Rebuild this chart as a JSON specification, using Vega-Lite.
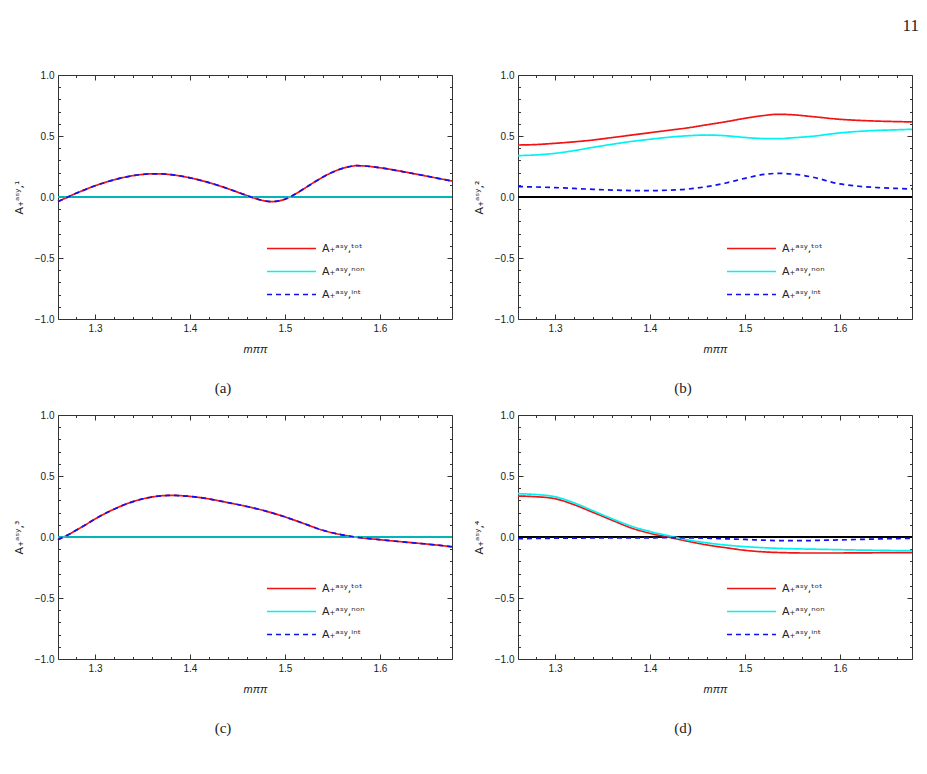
{
  "$schema": "https://vega.github.io/schema/vega-lite/v6.json",
  "padding": {"left": 12, "top": 16, "right": 5, "bottom": 5},
  "title": {"text": "11", "anchor": "end", "font": "Liberation Serif", "fontSize": 17, "fontWeight": "normal", "color": "#222", "offset": 35, "dx": 3},
  "datasets": {
    "curves": [
      {"p":"a","s":"tot","m":1.261,"v":-0.038},{"p":"a","s":"tot","m":1.27,"v":-0.005},{"p":"a","s":"tot","m":1.28,"v":0.03},{"p":"a","s":"tot","m":1.29,"v":0.062},{"p":"a","s":"tot","m":1.30,"v":0.092},{"p":"a","s":"tot","m":1.31,"v":0.118},{"p":"a","s":"tot","m":1.32,"v":0.141},{"p":"a","s":"tot","m":1.33,"v":0.160},{"p":"a","s":"tot","m":1.34,"v":0.175},{"p":"a","s":"tot","m":1.35,"v":0.185},{"p":"a","s":"tot","m":1.36,"v":0.190},{"p":"a","s":"tot","m":1.37,"v":0.189},{"p":"a","s":"tot","m":1.38,"v":0.183},{"p":"a","s":"tot","m":1.39,"v":0.172},{"p":"a","s":"tot","m":1.40,"v":0.157},{"p":"a","s":"tot","m":1.41,"v":0.139},{"p":"a","s":"tot","m":1.42,"v":0.118},{"p":"a","s":"tot","m":1.43,"v":0.094},{"p":"a","s":"tot","m":1.44,"v":0.068},{"p":"a","s":"tot","m":1.45,"v":0.040},{"p":"a","s":"tot","m":1.46,"v":0.012},{"p":"a","s":"tot","m":1.47,"v":-0.015},{"p":"a","s":"tot","m":1.48,"v":-0.034},{"p":"a","s":"tot","m":1.485,"v":-0.038},{"p":"a","s":"tot","m":1.49,"v":-0.036},{"p":"a","s":"tot","m":1.50,"v":-0.018},{"p":"a","s":"tot","m":1.51,"v":0.020},{"p":"a","s":"tot","m":1.52,"v":0.068},{"p":"a","s":"tot","m":1.53,"v":0.117},{"p":"a","s":"tot","m":1.54,"v":0.163},{"p":"a","s":"tot","m":1.55,"v":0.203},{"p":"a","s":"tot","m":1.56,"v":0.233},{"p":"a","s":"tot","m":1.57,"v":0.252},{"p":"a","s":"tot","m":1.575,"v":0.257},{"p":"a","s":"tot","m":1.58,"v":0.256},{"p":"a","s":"tot","m":1.59,"v":0.250},{"p":"a","s":"tot","m":1.60,"v":0.240},{"p":"a","s":"tot","m":1.61,"v":0.228},{"p":"a","s":"tot","m":1.62,"v":0.214},{"p":"a","s":"tot","m":1.63,"v":0.200},{"p":"a","s":"tot","m":1.64,"v":0.185},{"p":"a","s":"tot","m":1.65,"v":0.170},{"p":"a","s":"tot","m":1.66,"v":0.155},{"p":"a","s":"tot","m":1.676,"v":0.131},
      {"p":"a","s":"non","m":1.261,"v":0},{"p":"a","s":"non","m":1.676,"v":0},
      {"p":"a","s":"int","m":1.261,"v":-0.038},{"p":"a","s":"int","m":1.27,"v":-0.005},{"p":"a","s":"int","m":1.28,"v":0.03},{"p":"a","s":"int","m":1.29,"v":0.062},{"p":"a","s":"int","m":1.30,"v":0.092},{"p":"a","s":"int","m":1.31,"v":0.118},{"p":"a","s":"int","m":1.32,"v":0.141},{"p":"a","s":"int","m":1.33,"v":0.160},{"p":"a","s":"int","m":1.34,"v":0.175},{"p":"a","s":"int","m":1.35,"v":0.185},{"p":"a","s":"int","m":1.36,"v":0.190},{"p":"a","s":"int","m":1.37,"v":0.189},{"p":"a","s":"int","m":1.38,"v":0.183},{"p":"a","s":"int","m":1.39,"v":0.172},{"p":"a","s":"int","m":1.40,"v":0.157},{"p":"a","s":"int","m":1.41,"v":0.139},{"p":"a","s":"int","m":1.42,"v":0.118},{"p":"a","s":"int","m":1.43,"v":0.094},{"p":"a","s":"int","m":1.44,"v":0.068},{"p":"a","s":"int","m":1.45,"v":0.040},{"p":"a","s":"int","m":1.46,"v":0.012},{"p":"a","s":"int","m":1.47,"v":-0.015},{"p":"a","s":"int","m":1.48,"v":-0.034},{"p":"a","s":"int","m":1.485,"v":-0.038},{"p":"a","s":"int","m":1.49,"v":-0.036},{"p":"a","s":"int","m":1.50,"v":-0.018},{"p":"a","s":"int","m":1.51,"v":0.020},{"p":"a","s":"int","m":1.52,"v":0.068},{"p":"a","s":"int","m":1.53,"v":0.117},{"p":"a","s":"int","m":1.54,"v":0.163},{"p":"a","s":"int","m":1.55,"v":0.203},{"p":"a","s":"int","m":1.56,"v":0.233},{"p":"a","s":"int","m":1.57,"v":0.252},{"p":"a","s":"int","m":1.575,"v":0.257},{"p":"a","s":"int","m":1.58,"v":0.256},{"p":"a","s":"int","m":1.59,"v":0.250},{"p":"a","s":"int","m":1.60,"v":0.240},{"p":"a","s":"int","m":1.61,"v":0.228},{"p":"a","s":"int","m":1.62,"v":0.214},{"p":"a","s":"int","m":1.63,"v":0.200},{"p":"a","s":"int","m":1.64,"v":0.185},{"p":"a","s":"int","m":1.65,"v":0.170},{"p":"a","s":"int","m":1.66,"v":0.155},{"p":"a","s":"int","m":1.676,"v":0.131},

      {"p":"b","s":"tot","m":1.261,"v":0.426},{"p":"b","s":"tot","m":1.28,"v":0.43},{"p":"b","s":"tot","m":1.30,"v":0.44},{"p":"b","s":"tot","m":1.32,"v":0.452},{"p":"b","s":"tot","m":1.34,"v":0.467},{"p":"b","s":"tot","m":1.36,"v":0.487},{"p":"b","s":"tot","m":1.38,"v":0.507},{"p":"b","s":"tot","m":1.40,"v":0.527},{"p":"b","s":"tot","m":1.42,"v":0.547},{"p":"b","s":"tot","m":1.44,"v":0.567},{"p":"b","s":"tot","m":1.46,"v":0.592},{"p":"b","s":"tot","m":1.48,"v":0.617},{"p":"b","s":"tot","m":1.50,"v":0.645},{"p":"b","s":"tot","m":1.52,"v":0.668},{"p":"b","s":"tot","m":1.535,"v":0.678},{"p":"b","s":"tot","m":1.55,"v":0.674},{"p":"b","s":"tot","m":1.57,"v":0.66},{"p":"b","s":"tot","m":1.60,"v":0.637},{"p":"b","s":"tot","m":1.62,"v":0.628},{"p":"b","s":"tot","m":1.64,"v":0.622},{"p":"b","s":"tot","m":1.66,"v":0.618},{"p":"b","s":"tot","m":1.676,"v":0.615},
      {"p":"b","s":"non","m":1.261,"v":0.339},{"p":"b","s":"non","m":1.28,"v":0.345},{"p":"b","s":"non","m":1.30,"v":0.358},{"p":"b","s":"non","m":1.32,"v":0.38},{"p":"b","s":"non","m":1.34,"v":0.407},{"p":"b","s":"non","m":1.36,"v":0.432},{"p":"b","s":"non","m":1.38,"v":0.455},{"p":"b","s":"non","m":1.40,"v":0.473},{"p":"b","s":"non","m":1.42,"v":0.49},{"p":"b","s":"non","m":1.44,"v":0.502},{"p":"b","s":"non","m":1.46,"v":0.508},{"p":"b","s":"non","m":1.48,"v":0.502},{"p":"b","s":"non","m":1.50,"v":0.488},{"p":"b","s":"non","m":1.52,"v":0.479},{"p":"b","s":"non","m":1.535,"v":0.478},{"p":"b","s":"non","m":1.55,"v":0.485},{"p":"b","s":"non","m":1.57,"v":0.497},{"p":"b","s":"non","m":1.60,"v":0.525},{"p":"b","s":"non","m":1.62,"v":0.538},{"p":"b","s":"non","m":1.64,"v":0.546},{"p":"b","s":"non","m":1.66,"v":0.551},{"p":"b","s":"non","m":1.676,"v":0.555},
      {"p":"b","s":"int","m":1.261,"v":0.085},{"p":"b","s":"int","m":1.28,"v":0.082},{"p":"b","s":"int","m":1.30,"v":0.077},{"p":"b","s":"int","m":1.32,"v":0.07},{"p":"b","s":"int","m":1.34,"v":0.063},{"p":"b","s":"int","m":1.36,"v":0.057},{"p":"b","s":"int","m":1.38,"v":0.053},{"p":"b","s":"int","m":1.40,"v":0.052},{"p":"b","s":"int","m":1.42,"v":0.056},{"p":"b","s":"int","m":1.44,"v":0.065},{"p":"b","s":"int","m":1.46,"v":0.085},{"p":"b","s":"int","m":1.48,"v":0.115},{"p":"b","s":"int","m":1.50,"v":0.153},{"p":"b","s":"int","m":1.52,"v":0.185},{"p":"b","s":"int","m":1.535,"v":0.194},{"p":"b","s":"int","m":1.55,"v":0.188},{"p":"b","s":"int","m":1.57,"v":0.165},{"p":"b","s":"int","m":1.60,"v":0.107},{"p":"b","s":"int","m":1.62,"v":0.088},{"p":"b","s":"int","m":1.64,"v":0.077},{"p":"b","s":"int","m":1.66,"v":0.07},{"p":"b","s":"int","m":1.676,"v":0.066},

      {"p":"c","s":"tot","m":1.261,"v":-0.022},{"p":"c","s":"tot","m":1.27,"v":0.012},{"p":"c","s":"tot","m":1.28,"v":0.055},{"p":"c","s":"tot","m":1.29,"v":0.10},{"p":"c","s":"tot","m":1.30,"v":0.148},{"p":"c","s":"tot","m":1.31,"v":0.19},{"p":"c","s":"tot","m":1.32,"v":0.228},{"p":"c","s":"tot","m":1.33,"v":0.262},{"p":"c","s":"tot","m":1.34,"v":0.29},{"p":"c","s":"tot","m":1.35,"v":0.312},{"p":"c","s":"tot","m":1.36,"v":0.328},{"p":"c","s":"tot","m":1.37,"v":0.338},{"p":"c","s":"tot","m":1.38,"v":0.341},{"p":"c","s":"tot","m":1.39,"v":0.339},{"p":"c","s":"tot","m":1.40,"v":0.333},{"p":"c","s":"tot","m":1.42,"v":0.312},{"p":"c","s":"tot","m":1.44,"v":0.282},{"p":"c","s":"tot","m":1.46,"v":0.25},{"p":"c","s":"tot","m":1.48,"v":0.212},{"p":"c","s":"tot","m":1.50,"v":0.165},{"p":"c","s":"tot","m":1.52,"v":0.11},{"p":"c","s":"tot","m":1.54,"v":0.055},{"p":"c","s":"tot","m":1.56,"v":0.018},{"p":"c","s":"tot","m":1.58,"v":-0.006},{"p":"c","s":"tot","m":1.60,"v":-0.022},{"p":"c","s":"tot","m":1.62,"v":-0.037},{"p":"c","s":"tot","m":1.64,"v":-0.051},{"p":"c","s":"tot","m":1.66,"v":-0.066},{"p":"c","s":"tot","m":1.676,"v":-0.08},
      {"p":"c","s":"non","m":1.261,"v":0},{"p":"c","s":"non","m":1.676,"v":0},
      {"p":"c","s":"int","m":1.261,"v":-0.022},{"p":"c","s":"int","m":1.27,"v":0.012},{"p":"c","s":"int","m":1.28,"v":0.055},{"p":"c","s":"int","m":1.29,"v":0.10},{"p":"c","s":"int","m":1.30,"v":0.148},{"p":"c","s":"int","m":1.31,"v":0.19},{"p":"c","s":"int","m":1.32,"v":0.228},{"p":"c","s":"int","m":1.33,"v":0.262},{"p":"c","s":"int","m":1.34,"v":0.29},{"p":"c","s":"int","m":1.35,"v":0.312},{"p":"c","s":"int","m":1.36,"v":0.328},{"p":"c","s":"int","m":1.37,"v":0.338},{"p":"c","s":"int","m":1.38,"v":0.341},{"p":"c","s":"int","m":1.39,"v":0.339},{"p":"c","s":"int","m":1.40,"v":0.333},{"p":"c","s":"int","m":1.42,"v":0.312},{"p":"c","s":"int","m":1.44,"v":0.282},{"p":"c","s":"int","m":1.46,"v":0.25},{"p":"c","s":"int","m":1.48,"v":0.212},{"p":"c","s":"int","m":1.50,"v":0.165},{"p":"c","s":"int","m":1.52,"v":0.11},{"p":"c","s":"int","m":1.54,"v":0.055},{"p":"c","s":"int","m":1.56,"v":0.018},{"p":"c","s":"int","m":1.58,"v":-0.006},{"p":"c","s":"int","m":1.60,"v":-0.022},{"p":"c","s":"int","m":1.62,"v":-0.037},{"p":"c","s":"int","m":1.64,"v":-0.051},{"p":"c","s":"int","m":1.66,"v":-0.066},{"p":"c","s":"int","m":1.676,"v":-0.08},

      {"p":"d","s":"tot","m":1.261,"v":0.336},{"p":"d","s":"tot","m":1.28,"v":0.33},{"p":"d","s":"tot","m":1.30,"v":0.314},{"p":"d","s":"tot","m":1.32,"v":0.265},{"p":"d","s":"tot","m":1.34,"v":0.202},{"p":"d","s":"tot","m":1.36,"v":0.138},{"p":"d","s":"tot","m":1.38,"v":0.075},{"p":"d","s":"tot","m":1.40,"v":0.03},{"p":"d","s":"tot","m":1.42,"v":-0.002},{"p":"d","s":"tot","m":1.44,"v":-0.035},{"p":"d","s":"tot","m":1.46,"v":-0.065},{"p":"d","s":"tot","m":1.48,"v":-0.088},{"p":"d","s":"tot","m":1.50,"v":-0.109},{"p":"d","s":"tot","m":1.52,"v":-0.122},{"p":"d","s":"tot","m":1.54,"v":-0.128},{"p":"d","s":"tot","m":1.56,"v":-0.131},{"p":"d","s":"tot","m":1.58,"v":-0.131},{"p":"d","s":"tot","m":1.60,"v":-0.131},{"p":"d","s":"tot","m":1.62,"v":-0.13},{"p":"d","s":"tot","m":1.64,"v":-0.129},{"p":"d","s":"tot","m":1.66,"v":-0.128},{"p":"d","s":"tot","m":1.676,"v":-0.128},
      {"p":"d","s":"non","m":1.261,"v":0.355},{"p":"d","s":"non","m":1.28,"v":0.348},{"p":"d","s":"non","m":1.30,"v":0.33},{"p":"d","s":"non","m":1.32,"v":0.28},{"p":"d","s":"non","m":1.34,"v":0.215},{"p":"d","s":"non","m":1.36,"v":0.15},{"p":"d","s":"non","m":1.38,"v":0.09},{"p":"d","s":"non","m":1.40,"v":0.045},{"p":"d","s":"non","m":1.42,"v":0.01},{"p":"d","s":"non","m":1.44,"v":-0.024},{"p":"d","s":"non","m":1.46,"v":-0.048},{"p":"d","s":"non","m":1.48,"v":-0.066},{"p":"d","s":"non","m":1.50,"v":-0.079},{"p":"d","s":"non","m":1.52,"v":-0.088},{"p":"d","s":"non","m":1.54,"v":-0.094},{"p":"d","s":"non","m":1.56,"v":-0.098},{"p":"d","s":"non","m":1.58,"v":-0.101},{"p":"d","s":"non","m":1.60,"v":-0.104},{"p":"d","s":"non","m":1.62,"v":-0.107},{"p":"d","s":"non","m":1.64,"v":-0.109},{"p":"d","s":"non","m":1.66,"v":-0.111},{"p":"d","s":"non","m":1.676,"v":-0.112},
      {"p":"d","s":"int","m":1.261,"v":-0.014},{"p":"d","s":"int","m":1.28,"v":-0.012},{"p":"d","s":"int","m":1.30,"v":-0.01},{"p":"d","s":"int","m":1.32,"v":-0.009},{"p":"d","s":"int","m":1.34,"v":-0.008},{"p":"d","s":"int","m":1.36,"v":-0.008},{"p":"d","s":"int","m":1.38,"v":-0.008},{"p":"d","s":"int","m":1.40,"v":-0.007},{"p":"d","s":"int","m":1.42,"v":-0.005},{"p":"d","s":"int","m":1.44,"v":-0.007},{"p":"d","s":"int","m":1.46,"v":-0.01},{"p":"d","s":"int","m":1.48,"v":-0.015},{"p":"d","s":"int","m":1.50,"v":-0.02},{"p":"d","s":"int","m":1.52,"v":-0.026},{"p":"d","s":"int","m":1.54,"v":-0.03},{"p":"d","s":"int","m":1.56,"v":-0.03},{"p":"d","s":"int","m":1.58,"v":-0.027},{"p":"d","s":"int","m":1.60,"v":-0.024},{"p":"d","s":"int","m":1.62,"v":-0.02},{"p":"d","s":"int","m":1.64,"v":-0.016},{"p":"d","s":"int","m":1.66,"v":-0.013},{"p":"d","s":"int","m":1.676,"v":-0.011}
    ]
  },
  "columns": 2,
  "bounds": "flush",
  "spacing": {"row": 96, "column": 66},
  "resolve": {
    "scale": {"color": "independent", "strokeDash": "independent"},
    "legend": {"color": "independent", "strokeDash": "independent"}
  },
  "concat": [
    {
      "width": 394, "height": 244,
      "title": {"text": "(a)", "orient": "bottom", "font": "Liberation Serif", "fontSize": 15, "fontWeight": "normal", "color": "#222", "frame": "group", "anchor": "middle", "dx": -32, "offset": 27},
      "data": {"name": "curves"},
      "transform": [{"filter": "datum.p == 'a'"}],
      "resolve": {"axis": {"x": "independent", "y": "independent"}},
      "layer": [
        {
          "mark": {"type": "rule", "color": "#000", "strokeWidth": 1},
          "encoding": {
            "x": {"datum": 1.261, "type": "quantitative", "scale": {"domain": [1.261, 1.676], "nice": false, "zero": false},
                  "axis": {"orient": "top", "labels": false, "title": null, "values": [1.28,1.3,1.32,1.34,1.36,1.38,1.4,1.42,1.44,1.46,1.48,1.5,1.52,1.54,1.56,1.58,1.6,1.62,1.64,1.66], "tickSize": {"condition": {"test": "abs(datum.value*10 - round(datum.value*10)) < 0.001", "value": -5}, "value": -2.5}}},
            "x2": {"datum": 1.676},
            "y": {"datum": 0, "type": "quantitative", "scale": {"domain": [-1, 1], "nice": false},
                  "axis": {"orient": "right", "labels": false, "title": null, "values": [-1,-0.9,-0.8,-0.7,-0.6,-0.5,-0.4,-0.3,-0.2,-0.1,0,0.1,0.2,0.3,0.4,0.5,0.6,0.7,0.8,0.9,1], "tickSize": {"condition": {"test": "abs(datum.value*2 - round(datum.value*2)) < 0.001", "value": -5}, "value": -2.5}}}
          }
        },
        {
          "transform": [{"filter": "datum.s == 'tot'"}],
          "mark": {"type": "line", "strokeWidth": 1.7, "interpolate": "monotone"},
          "encoding": {
            "x": {"field": "m", "type": "quantitative", "scale": {"domain": [1.261, 1.676], "nice": false, "zero": false},
                  "axis": {"orient": "bottom", "title": "mππ", "titleFontStyle": "italic", "values": [1.28,1.3,1.32,1.34,1.36,1.38,1.4,1.42,1.44,1.46,1.48,1.5,1.52,1.54,1.56,1.58,1.6,1.62,1.64,1.66], "labelExpr": "abs(datum.value*10 - round(datum.value*10)) < 0.001 ? format(datum.value, '.1f') : ''", "tickSize": {"condition": {"test": "abs(datum.value*10 - round(datum.value*10)) < 0.001", "value": -5}, "value": -2.5}, "labelPadding": 9, "titlePadding": 10}},
            "y": {"field": "v", "type": "quantitative", "scale": {"domain": [-1, 1], "nice": false},
                  "axis": {"orient": "left", "title": "A₊ᵃˢʸ,¹", "titleFont": "DejaVu Sans", "values": [-1,-0.9,-0.8,-0.7,-0.6,-0.5,-0.4,-0.3,-0.2,-0.1,0,0.1,0.2,0.3,0.4,0.5,0.6,0.7,0.8,0.9,1], "labelExpr": "abs(datum.value*2 - round(datum.value*2)) < 0.001 ? format(datum.value, '.1f') : ''", "tickSize": {"condition": {"test": "abs(datum.value*2 - round(datum.value*2)) < 0.001", "value": -5}, "value": -2.5}, "labelPadding": 9, "titlePadding": 10}},
            "color": {"field": "s", "type": "nominal", "scale": {"domain": ["tot", "non", "int"], "range": ["#f01414", "#00f2f2", "#1010f0"]},
                      "legend": {"labelExpr": "datum.value == 'tot' ? 'A₊ᵃˢʸ,ᵗᵒᵗ' : datum.value == 'non' ? 'A₊ᵃˢʸ,ⁿᵒⁿ' : 'A₊ᵃˢʸ,ⁱⁿᵗ'"}},
            "strokeDash": {"field": "s", "type": "nominal", "scale": {"domain": ["tot", "non", "int"], "range": [[1, 0], [1, 0], [5, 4]]}}
          }
        },
        {
          "transform": [{"filter": "datum.s == 'non'"}],
          "mark": {"type": "line", "strokeWidth": 1.7, "interpolate": "monotone"},
          "encoding": {
            "x": {"field": "m", "type": "quantitative", "axis": null},
            "y": {"field": "v", "type": "quantitative", "axis": null},
            "color": {"field": "s", "type": "nominal"},
            "strokeDash": {"field": "s", "type": "nominal"}
          }
        },
        {
          "transform": [{"filter": "datum.s == 'int'"}],
          "mark": {"type": "line", "strokeWidth": 1.7, "interpolate": "monotone"},
          "encoding": {
            "x": {"field": "m", "type": "quantitative", "axis": null},
            "y": {"field": "v", "type": "quantitative", "axis": null},
            "color": {"field": "s", "type": "nominal"},
            "strokeDash": {"field": "s", "type": "nominal"}
          }
        }
      ]
    },
    {
      "width": 394, "height": 244,
      "title": {"text": "(b)", "orient": "bottom", "font": "Liberation Serif", "fontSize": 15, "fontWeight": "normal", "color": "#222", "frame": "group", "anchor": "middle", "dx": -32, "offset": 27},
      "data": {"name": "curves"},
      "transform": [{"filter": "datum.p == 'b'"}],
      "resolve": {"axis": {"x": "independent", "y": "independent"}},
      "layer": [
        {
          "mark": {"type": "rule", "color": "#000", "strokeWidth": 1},
          "encoding": {
            "x": {"datum": 1.261, "type": "quantitative", "scale": {"domain": [1.261, 1.676], "nice": false, "zero": false},
                  "axis": {"orient": "top", "labels": false, "title": null, "values": [1.28,1.3,1.32,1.34,1.36,1.38,1.4,1.42,1.44,1.46,1.48,1.5,1.52,1.54,1.56,1.58,1.6,1.62,1.64,1.66], "tickSize": {"condition": {"test": "abs(datum.value*10 - round(datum.value*10)) < 0.001", "value": -5}, "value": -2.5}}},
            "x2": {"datum": 1.676},
            "y": {"datum": 0, "type": "quantitative", "scale": {"domain": [-1, 1], "nice": false},
                  "axis": {"orient": "right", "labels": false, "title": null, "values": [-1,-0.9,-0.8,-0.7,-0.6,-0.5,-0.4,-0.3,-0.2,-0.1,0,0.1,0.2,0.3,0.4,0.5,0.6,0.7,0.8,0.9,1], "tickSize": {"condition": {"test": "abs(datum.value*2 - round(datum.value*2)) < 0.001", "value": -5}, "value": -2.5}}}
          }
        },
        {
          "transform": [{"filter": "datum.s == 'tot'"}],
          "mark": {"type": "line", "strokeWidth": 1.7, "interpolate": "monotone"},
          "encoding": {
            "x": {"field": "m", "type": "quantitative", "scale": {"domain": [1.261, 1.676], "nice": false, "zero": false},
                  "axis": {"orient": "bottom", "title": "mππ", "titleFontStyle": "italic", "values": [1.28,1.3,1.32,1.34,1.36,1.38,1.4,1.42,1.44,1.46,1.48,1.5,1.52,1.54,1.56,1.58,1.6,1.62,1.64,1.66], "labelExpr": "abs(datum.value*10 - round(datum.value*10)) < 0.001 ? format(datum.value, '.1f') : ''", "tickSize": {"condition": {"test": "abs(datum.value*10 - round(datum.value*10)) < 0.001", "value": -5}, "value": -2.5}, "labelPadding": 9, "titlePadding": 10}},
            "y": {"field": "v", "type": "quantitative", "scale": {"domain": [-1, 1], "nice": false},
                  "axis": {"orient": "left", "title": "A₊ᵃˢʸ,²", "titleFont": "DejaVu Sans", "values": [-1,-0.9,-0.8,-0.7,-0.6,-0.5,-0.4,-0.3,-0.2,-0.1,0,0.1,0.2,0.3,0.4,0.5,0.6,0.7,0.8,0.9,1], "labelExpr": "abs(datum.value*2 - round(datum.value*2)) < 0.001 ? format(datum.value, '.1f') : ''", "tickSize": {"condition": {"test": "abs(datum.value*2 - round(datum.value*2)) < 0.001", "value": -5}, "value": -2.5}, "labelPadding": 9, "titlePadding": 10}},
            "color": {"field": "s", "type": "nominal", "scale": {"domain": ["tot", "non", "int"], "range": ["#f01414", "#00f2f2", "#1010f0"]},
                      "legend": {"labelExpr": "datum.value == 'tot' ? 'A₊ᵃˢʸ,ᵗᵒᵗ' : datum.value == 'non' ? 'A₊ᵃˢʸ,ⁿᵒⁿ' : 'A₊ᵃˢʸ,ⁱⁿᵗ'"}},
            "strokeDash": {"field": "s", "type": "nominal", "scale": {"domain": ["tot", "non", "int"], "range": [[1, 0], [1, 0], [5, 4]]}}
          }
        },
        {
          "transform": [{"filter": "datum.s == 'non'"}],
          "mark": {"type": "line", "strokeWidth": 1.7, "interpolate": "monotone"},
          "encoding": {
            "x": {"field": "m", "type": "quantitative", "axis": null},
            "y": {"field": "v", "type": "quantitative", "axis": null},
            "color": {"field": "s", "type": "nominal"},
            "strokeDash": {"field": "s", "type": "nominal"}
          }
        },
        {
          "transform": [{"filter": "datum.s == 'int'"}],
          "mark": {"type": "line", "strokeWidth": 1.7, "interpolate": "monotone"},
          "encoding": {
            "x": {"field": "m", "type": "quantitative", "axis": null},
            "y": {"field": "v", "type": "quantitative", "axis": null},
            "color": {"field": "s", "type": "nominal"},
            "strokeDash": {"field": "s", "type": "nominal"}
          }
        }
      ]
    },
    {
      "width": 394, "height": 244,
      "title": {"text": "(c)", "orient": "bottom", "font": "Liberation Serif", "fontSize": 15, "fontWeight": "normal", "color": "#222", "frame": "group", "anchor": "middle", "dx": -32, "offset": 27},
      "data": {"name": "curves"},
      "transform": [{"filter": "datum.p == 'c'"}],
      "resolve": {"axis": {"x": "independent", "y": "independent"}},
      "layer": [
        {
          "mark": {"type": "rule", "color": "#000", "strokeWidth": 1},
          "encoding": {
            "x": {"datum": 1.261, "type": "quantitative", "scale": {"domain": [1.261, 1.676], "nice": false, "zero": false},
                  "axis": {"orient": "top", "labels": false, "title": null, "values": [1.28,1.3,1.32,1.34,1.36,1.38,1.4,1.42,1.44,1.46,1.48,1.5,1.52,1.54,1.56,1.58,1.6,1.62,1.64,1.66], "tickSize": {"condition": {"test": "abs(datum.value*10 - round(datum.value*10)) < 0.001", "value": -5}, "value": -2.5}}},
            "x2": {"datum": 1.676},
            "y": {"datum": 0, "type": "quantitative", "scale": {"domain": [-1, 1], "nice": false},
                  "axis": {"orient": "right", "labels": false, "title": null, "values": [-1,-0.9,-0.8,-0.7,-0.6,-0.5,-0.4,-0.3,-0.2,-0.1,0,0.1,0.2,0.3,0.4,0.5,0.6,0.7,0.8,0.9,1], "tickSize": {"condition": {"test": "abs(datum.value*2 - round(datum.value*2)) < 0.001", "value": -5}, "value": -2.5}}}
          }
        },
        {
          "transform": [{"filter": "datum.s == 'tot'"}],
          "mark": {"type": "line", "strokeWidth": 1.7, "interpolate": "monotone"},
          "encoding": {
            "x": {"field": "m", "type": "quantitative", "scale": {"domain": [1.261, 1.676], "nice": false, "zero": false},
                  "axis": {"orient": "bottom", "title": "mππ", "titleFontStyle": "italic", "values": [1.28,1.3,1.32,1.34,1.36,1.38,1.4,1.42,1.44,1.46,1.48,1.5,1.52,1.54,1.56,1.58,1.6,1.62,1.64,1.66], "labelExpr": "abs(datum.value*10 - round(datum.value*10)) < 0.001 ? format(datum.value, '.1f') : ''", "tickSize": {"condition": {"test": "abs(datum.value*10 - round(datum.value*10)) < 0.001", "value": -5}, "value": -2.5}, "labelPadding": 9, "titlePadding": 10}},
            "y": {"field": "v", "type": "quantitative", "scale": {"domain": [-1, 1], "nice": false},
                  "axis": {"orient": "left", "title": "A₊ᵃˢʸ,³", "titleFont": "DejaVu Sans", "values": [-1,-0.9,-0.8,-0.7,-0.6,-0.5,-0.4,-0.3,-0.2,-0.1,0,0.1,0.2,0.3,0.4,0.5,0.6,0.7,0.8,0.9,1], "labelExpr": "abs(datum.value*2 - round(datum.value*2)) < 0.001 ? format(datum.value, '.1f') : ''", "tickSize": {"condition": {"test": "abs(datum.value*2 - round(datum.value*2)) < 0.001", "value": -5}, "value": -2.5}, "labelPadding": 9, "titlePadding": 10}},
            "color": {"field": "s", "type": "nominal", "scale": {"domain": ["tot", "non", "int"], "range": ["#f01414", "#00f2f2", "#1010f0"]},
                      "legend": {"labelExpr": "datum.value == 'tot' ? 'A₊ᵃˢʸ,ᵗᵒᵗ' : datum.value == 'non' ? 'A₊ᵃˢʸ,ⁿᵒⁿ' : 'A₊ᵃˢʸ,ⁱⁿᵗ'"}},
            "strokeDash": {"field": "s", "type": "nominal", "scale": {"domain": ["tot", "non", "int"], "range": [[1, 0], [1, 0], [5, 4]]}}
          }
        },
        {
          "transform": [{"filter": "datum.s == 'non'"}],
          "mark": {"type": "line", "strokeWidth": 1.7, "interpolate": "monotone"},
          "encoding": {
            "x": {"field": "m", "type": "quantitative", "axis": null},
            "y": {"field": "v", "type": "quantitative", "axis": null},
            "color": {"field": "s", "type": "nominal"},
            "strokeDash": {"field": "s", "type": "nominal"}
          }
        },
        {
          "transform": [{"filter": "datum.s == 'int'"}],
          "mark": {"type": "line", "strokeWidth": 1.7, "interpolate": "monotone"},
          "encoding": {
            "x": {"field": "m", "type": "quantitative", "axis": null},
            "y": {"field": "v", "type": "quantitative", "axis": null},
            "color": {"field": "s", "type": "nominal"},
            "strokeDash": {"field": "s", "type": "nominal"}
          }
        }
      ]
    },
    {
      "width": 394, "height": 244,
      "title": {"text": "(d)", "orient": "bottom", "font": "Liberation Serif", "fontSize": 15, "fontWeight": "normal", "color": "#222", "frame": "group", "anchor": "middle", "dx": -32, "offset": 27},
      "data": {"name": "curves"},
      "transform": [{"filter": "datum.p == 'd'"}],
      "resolve": {"axis": {"x": "independent", "y": "independent"}},
      "layer": [
        {
          "mark": {"type": "rule", "color": "#000", "strokeWidth": 1},
          "encoding": {
            "x": {"datum": 1.261, "type": "quantitative", "scale": {"domain": [1.261, 1.676], "nice": false, "zero": false},
                  "axis": {"orient": "top", "labels": false, "title": null, "values": [1.28,1.3,1.32,1.34,1.36,1.38,1.4,1.42,1.44,1.46,1.48,1.5,1.52,1.54,1.56,1.58,1.6,1.62,1.64,1.66], "tickSize": {"condition": {"test": "abs(datum.value*10 - round(datum.value*10)) < 0.001", "value": -5}, "value": -2.5}}},
            "x2": {"datum": 1.676},
            "y": {"datum": 0, "type": "quantitative", "scale": {"domain": [-1, 1], "nice": false},
                  "axis": {"orient": "right", "labels": false, "title": null, "values": [-1,-0.9,-0.8,-0.7,-0.6,-0.5,-0.4,-0.3,-0.2,-0.1,0,0.1,0.2,0.3,0.4,0.5,0.6,0.7,0.8,0.9,1], "tickSize": {"condition": {"test": "abs(datum.value*2 - round(datum.value*2)) < 0.001", "value": -5}, "value": -2.5}}}
          }
        },
        {
          "transform": [{"filter": "datum.s == 'tot'"}],
          "mark": {"type": "line", "strokeWidth": 1.7, "interpolate": "monotone"},
          "encoding": {
            "x": {"field": "m", "type": "quantitative", "scale": {"domain": [1.261, 1.676], "nice": false, "zero": false},
                  "axis": {"orient": "bottom", "title": "mππ", "titleFontStyle": "italic", "values": [1.28,1.3,1.32,1.34,1.36,1.38,1.4,1.42,1.44,1.46,1.48,1.5,1.52,1.54,1.56,1.58,1.6,1.62,1.64,1.66], "labelExpr": "abs(datum.value*10 - round(datum.value*10)) < 0.001 ? format(datum.value, '.1f') : ''", "tickSize": {"condition": {"test": "abs(datum.value*10 - round(datum.value*10)) < 0.001", "value": -5}, "value": -2.5}, "labelPadding": 9, "titlePadding": 10}},
            "y": {"field": "v", "type": "quantitative", "scale": {"domain": [-1, 1], "nice": false},
                  "axis": {"orient": "left", "title": "A₊ᵃˢʸ,⁴", "titleFont": "DejaVu Sans", "values": [-1,-0.9,-0.8,-0.7,-0.6,-0.5,-0.4,-0.3,-0.2,-0.1,0,0.1,0.2,0.3,0.4,0.5,0.6,0.7,0.8,0.9,1], "labelExpr": "abs(datum.value*2 - round(datum.value*2)) < 0.001 ? format(datum.value, '.1f') : ''", "tickSize": {"condition": {"test": "abs(datum.value*2 - round(datum.value*2)) < 0.001", "value": -5}, "value": -2.5}, "labelPadding": 9, "titlePadding": 10}},
            "color": {"field": "s", "type": "nominal", "scale": {"domain": ["tot", "non", "int"], "range": ["#f01414", "#00f2f2", "#1010f0"]},
                      "legend": {"labelExpr": "datum.value == 'tot' ? 'A₊ᵃˢʸ,ᵗᵒᵗ' : datum.value == 'non' ? 'A₊ᵃˢʸ,ⁿᵒⁿ' : 'A₊ᵃˢʸ,ⁱⁿᵗ'"}},
            "strokeDash": {"field": "s", "type": "nominal", "scale": {"domain": ["tot", "non", "int"], "range": [[1, 0], [1, 0], [5, 4]]}}
          }
        },
        {
          "transform": [{"filter": "datum.s == 'non'"}],
          "mark": {"type": "line", "strokeWidth": 1.7, "interpolate": "monotone"},
          "encoding": {
            "x": {"field": "m", "type": "quantitative", "axis": null},
            "y": {"field": "v", "type": "quantitative", "axis": null},
            "color": {"field": "s", "type": "nominal"},
            "strokeDash": {"field": "s", "type": "nominal"}
          }
        },
        {
          "transform": [{"filter": "datum.s == 'int'"}],
          "mark": {"type": "line", "strokeWidth": 1.7, "interpolate": "monotone"},
          "encoding": {
            "x": {"field": "m", "type": "quantitative", "axis": null},
            "y": {"field": "v", "type": "quantitative", "axis": null},
            "color": {"field": "s", "type": "nominal"},
            "strokeDash": {"field": "s", "type": "nominal"}
          }
        }
      ]
    }
  ],
  "config": {
    "view": {"stroke": "#333", "strokeWidth": 1},
    "axis": {"grid": false, "domain": false, "tickColor": "#333", "tickWidth": 1, "labelFont": "Liberation Sans", "labelFontSize": 10, "labelColor": "#222", "titleFont": "Liberation Sans", "titleFontSize": 11, "titleFontWeight": "normal", "titleColor": "#222"},
    "legend": {
      "orient": "none", "legendX": 228, "legendY": 168, "title": null,
      "symbolType": "M-6.125,0H6.125", "symbolSize": 64, "symbolStrokeWidth": 1.7,
      "labelFont": "DejaVu Sans", "labelFontSize": 11, "labelColor": "#222", "labelOffset": 25, "rowPadding": 11
    }
  }
}
